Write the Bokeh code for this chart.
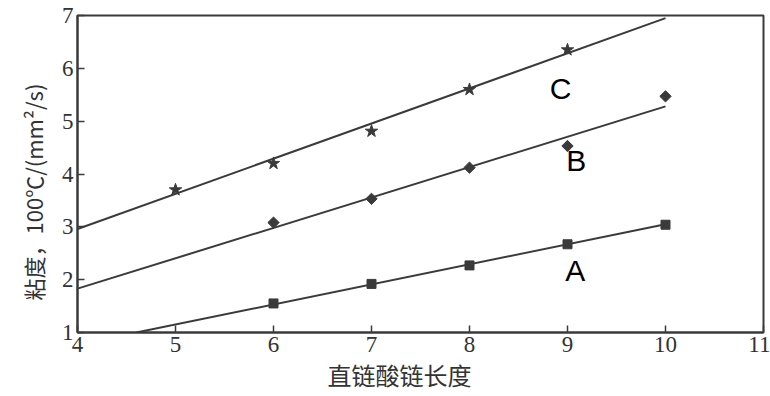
from bokeh.plotting import figure
from bokeh.models import Range1d, Label, FixedTicker, Title
from bokeh.embed import file_html
from bokeh.resources import INLINE
from math import pi

# Data
a_x = [6, 7, 8, 9, 10]
a_y = [1.55, 1.92, 2.27, 2.67, 3.04]
b_x = [6, 7, 8, 9, 10]
b_y = [3.08, 3.53, 4.12, 4.53, 5.47]
c_x = [5, 6, 7, 8, 9]
c_y = [3.70, 4.20, 4.81, 5.60, 6.35]

# fitted line end points
a_line_x = [4.6, 10]
a_line_y = [1.0, 3.05]
b_line_x = [4, 10]
b_line_y = [1.83, 5.28]
c_line_x = [4, 10]
c_line_y = [2.96, 6.95]

x_ticks = [4, 5, 6, 7, 8, 9, 10, 11]
y_ticks = [1, 2, 3, 4, 5, 6, 7]

series_labels = ["C", "B", "A"]
label_x = [8.93, 9.09, 9.08]
label_y = [5.62, 4.26, 2.17]

x_title = "直链酸链长度"
y_title = "粘度，100℃/(mm²/s)"

ink = "#3a3a3a"

p = figure(width=770, height=396, output_backend="svg", toolbar_location=None,
           x_range=Range1d(4, 11), y_range=Range1d(1, 7),
           min_border_left=77, min_border_right=7, min_border_top=15, min_border_bottom=64)
p.grid.visible = False
p.outline_line_color = ink
p.outline_line_width = 2
p.background_fill_color = "white"
p.border_fill_color = "white"

for ax, ticks in ((p.xaxis[0], x_ticks), (p.yaxis[0], y_ticks)):
    ax.ticker = FixedTicker(ticks=ticks)
    ax.minor_tick_line_color = None
    ax.major_tick_in = 7
    ax.major_tick_out = 0
    ax.major_tick_line_color = ink
    ax.major_tick_line_width = 1.5
    ax.axis_line_color = ink
    ax.axis_line_width = 2
    ax.major_label_text_font = "Liberation Serif"
    ax.major_label_text_font_size = "23px"
    ax.major_label_text_color = "#333333"
    ax.major_label_standoff = 4

p.line(a_line_x, a_line_y, line_color=ink, line_width=2)
p.line(b_line_x, b_line_y, line_color=ink, line_width=2)
p.line(c_line_x, c_line_y, line_color=ink, line_width=2)

p.scatter(a_x, a_y, marker="square", size=9, fill_color=ink, line_color=ink)
p.scatter(b_x, b_y, marker="square", size=8, angle=pi/4, fill_color=ink, line_color=ink)
p.scatter(c_x, c_y, marker="star", size=13, fill_color=ink, line_color=ink)

for t, lx, ly in zip(series_labels, label_x, label_y):
    p.add_layout(Label(x=lx, y=ly, text=t, text_font="Liberation Sans", text_font_size="30px",
                       text_align="center", text_baseline="middle", text_color="black"))

p.add_layout(Title(text=y_title, align="left", offset=32, standoff=20,
                   text_font="Noto Sans CJK SC", text_font_size="22px",
                   text_font_style="normal", text_color="#333333"), "left")
p.add_layout(Title(text=x_title, align="left", offset=250, standoff=0, vertical_align="bottom",
                   text_font="Noto Sans CJK SC", text_font_size="24px",
                   text_font_style="normal", text_color="#333333"), "below")

open("out.html", "w").write(file_html(p, INLINE))
